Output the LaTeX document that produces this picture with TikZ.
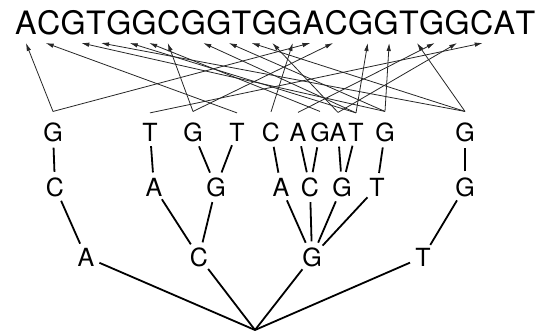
\documentclass[tikz,border=0pt]{standalone}
\usepackage{fontspec}
\setmainfont{TeX Gyre Heros}
\usetikzlibrary{arrows.meta, positioning, calc}

\begin{document}
\begin{tikzpicture}[x=1pt, y=-1pt,
    seq/.style={inner sep=0pt, text height=23pt, text depth=0pt,
                font=\fontsize{32.2}{36}\selectfont},
    base/.style={circle, inner sep=1.5pt, text height=18pt, text depth=0pt,
                 font=\fontsize{25}{30}\selectfont},
    edge/.style={line width=1.8pt},
    ptr/.style={-{Latex[length=8pt,width=4.5pt]}, line width=0.8pt, black!85}
]
\useasboundingbox (0,0) rectangle (539,333);
% the sequence, one node per letter
\node[seq, anchor=south west] (s0) at (15,35) {A};
\foreach \ch [count=\i, remember=\i as \j (initially 0)] in {C,G,T,G,G,C,G,G,T,G,G,A,C,G,G,T,G,G,C,A,T}
  \node[seq, right=0pt of s\j] (s\i) {\ch};
\foreach \i/\dx in {0/0,1/-3,2/8,3/5,4/11,5/5,6/-1,7/10,8/10,9/10,10/8,11/3,12/-3,13/-3,14/7,15/3,16/8,17/3,18/0,19/1}
  \coordinate (t\i) at ($(s\i.south)+(\dx,8)$);

% the trie
\coordinate (root) at (255,330);
\node[base] (a) at (86,257) {A};
\node[base] (c) at (199,257) {C};
\node[base] (g) at (312,257) {G};
\node[base] (t) at (423,257) {T};

\node[base] (ac) at (55,187) {C};
\node[base] (ca) at (154,187) {A};
\node[base] (cg) at (216,187) {G};
\node[base] (ga) at (281,187) {A};
\node[base] (gc) at (310,187) {C};
\node[base] (gg) at (342,187) {G};
\node[base] (gt) at (377,187) {T};
\node[base] (tg) at (465,187) {G};

\node[base] (acg) at (53,132) {G};
\node[base] (cat) at (150,132) {T};
\node[base] (cgg) at (193,132) {G};
\node[base] (cgt) at (237,132) {T};
\node[base] (gac) at (271,132) {C};
\node[base] (gca) at (298,132) {A};
\node[base] (gcg) at (320,132) {G};
\node[base] (gga) at (338,132) {A};
\node[base] (ggt) at (356,132) {T};
\node[base] (gtg) at (385,132) {G};
\node[base] (tgg) at (465,132) {G};

\foreach \a/\b in {root/a,root/c,root/g,root/t,a/ac,c/ca,c/cg,g/ga,g/gc,g/gg,g/gt,t/tg,
                   ac/acg,ca/cat,cg/cgg,cg/cgt,ga/gac,gc/gca,gc/gcg,gg/gga,gg/ggt,gt/gtg,tg/tgg}
  \draw[edge] (\a) -- (\b);

% leaves point to their places in the sequence
\foreach \a/\b in {acg/0,acg/12,cat/19,cgg/6,cgg/13,cgt/1,gac/11,gca/17,gga/18,gcg/5,gga/10,
                   ggt/4,ggt/7,ggt/14,gtg/2,gtg/8,gtg/15,tgg/3,tgg/9,tgg/16}
  \draw[ptr] ([yshift=5pt]\a.north) -- (t\b);
\end{tikzpicture}
\end{document}
